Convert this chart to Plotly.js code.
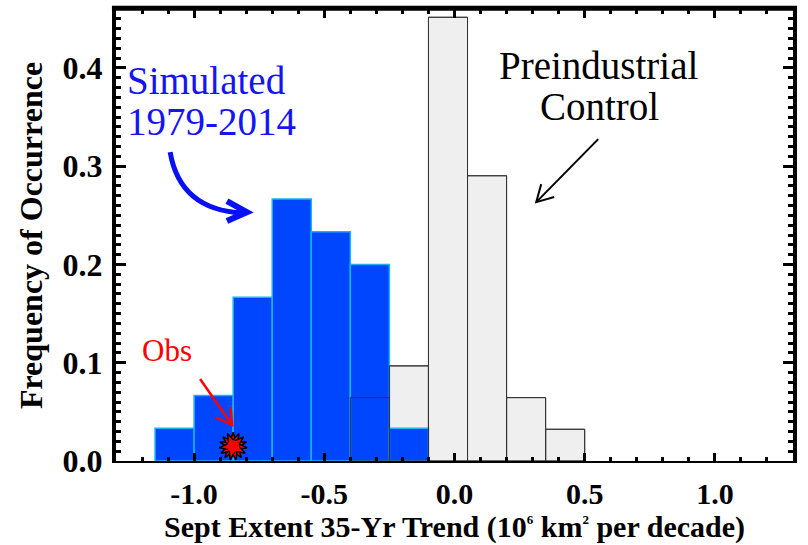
<!DOCTYPE html>
<html>
<head>
<meta charset="utf-8">
<script src="https://cdn.plot.ly/plotly-3.0.1.min.js"></script>
<style>html,body{margin:0;padding:0;background:#fff;}#chart{width:808px;height:545px;}</style>
</head>
<body>
<div id="chart"></div>
<script>
// Bin centres (10^6 km^2 per decade), bin width 0.15
const simCenters = [-1.075, -0.925, -0.775, -0.625, -0.475, -0.325, -0.175];
const simFreq    = [0.0333, 0.0667, 0.1667, 0.2667, 0.2333, 0.2000, 0.0333];
const ctrlCenters = [-0.325, -0.175, -0.025, 0.125, 0.275, 0.425];
const ctrlFreq    = [0.0645, 0.0968, 0.4516, 0.2903, 0.0645, 0.0323];
const binWidth = 0.15;
const obsTrend = [-0.85];
const xTickVals = [-1.0, -0.5, 0.0, 0.5, 1.0];
const xTickText = ['-1.0', '-0.5', '0.0', '0.5', '1.0'];
const yTickVals = [0.0, 0.1, 0.2, 0.3, 0.4];
const yTickText = ['0.0', '0.1', '0.2', '0.3', '0.4'];

const serif = 'Liberation Serif';

const traces = [
  {type:'bar', x: ctrlCenters, y: ctrlFreq, width: binWidth,
   marker:{color:'#EFEFEF', line:{color:'#444', width:1}}, hoverinfo:'skip'},
  {type:'bar', x: simCenters, y: simFreq, width: binWidth,
   marker:{color:'#0046FF', line:{color:'#1AB2F0', width:1.5}}, hoverinfo:'skip'},
  {type:'bar', x: ctrlCenters, y: ctrlFreq, width: binWidth,
   marker:{color:'rgba(0,0,0,0)', line:{color:'#333', width:1}}, hoverinfo:'skip'},
  {type:'scatter', mode:'markers', x: obsTrend, y: [0.015],
   marker:{symbol:'star', size:20, color:'#FF0000', line:{color:'#000', width:1.5}}, hoverinfo:'skip'},
  {type:'scatter', mode:'markers', x: obsTrend, y: [0.015],
   marker:{symbol:'star', angle:24, size:20, color:'#FF0000', line:{color:'#000', width:1.5}}, hoverinfo:'skip'},
  {type:'scatter', mode:'markers', x: obsTrend, y: [0.015],
   marker:{symbol:'star', angle:48, size:20, color:'#FF0000', line:{color:'#000', width:1.5}}, hoverinfo:'skip'},
  {type:'scatter', mode:'markers', x: obsTrend, y: [0.015],
   marker:{symbol:'circle', size:12, color:'#FF0000'}, hoverinfo:'skip'}
];

const layout = {
  width: 808, height: 545,
  margin: {l:116, r:15, t:10, b:84},
  paper_bgcolor:'#fff', plot_bgcolor:'#fff',
  showlegend:false, barmode:'overlay', bargap:0,
  font:{family: serif, color:'#000'},
  xaxis:{
    range:[-1.3, 1.3], tickmode:'array', tickvals:xTickVals, ticktext:xTickText,
    ticks:'inside', ticklen:8, tickwidth:3, tickcolor:'#000',
    showline:true, linecolor:'#000', linewidth:2, mirror:'ticks',
    showgrid:false, zeroline:false,
    minor:{tickmode:'linear', tick0:0, dtick:0.1, ticks:'inside', ticklen:4, tickwidth:3, tickcolor:'#000', showgrid:false},
    tickfont:{family: serif, size:30, weight:'bold', color:'#000'},
    ticklabelstandoff: 5,
    title:{text:'Sept Extent 35-Yr Trend (10<sup><span style="font-size:13px">6</span></sup> km<sup><span style="font-size:13px">2</span></sup> per decade)',
           font:{family: serif, size:30, weight:'bold', color:'#000'}, standoff: 4}
  },
  yaxis:{
    range:[0, 0.459], tickmode:'array', tickvals:yTickVals, ticktext:yTickText,
    ticks:'inside', ticklen:10, tickwidth:3, tickcolor:'#000',
    showline:true, linecolor:'#000', linewidth:4, mirror:'ticks',
    showgrid:false, zeroline:false,
    minor:{tickmode:'linear', tick0:0, dtick:0.01, ticks:'inside', ticklen:5, tickwidth:3, tickcolor:'#000', showgrid:false},
    tickfont:{family: serif, size:32, weight:'bold', color:'#000'},
    ticklabelstandoff: 3,
    title:{text:'Frequency of Occurrence', font:{family: serif, size:32, weight:'bold', color:'#000'}, standoff: 11}
  },
  shapes:[
    {type:'line', xref:'paper', yref:'paper', x0:-0.006, x1:1.006, y0:1.004, y1:1.004, line:{color:'#000', width:5}},
    // blue curved arrow
    {type:'path', xref:'x', yref:'y', path:'M -1.092,0.3143 Q -1.054,0.2553 -0.812,0.2523', line:{color:'#0A10F5', width:5}},
    {type:'path', xref:'x', yref:'y', path:'M -0.874,0.2645 L -0.797,0.2533 L -0.874,0.2442', line:{color:'#0A10F5', width:6}},
    // black arrow
    {type:'path', xref:'x', yref:'y', path:'M 0.552,0.3276 L 0.314,0.2635', line:{color:'#000', width:2}},
    {type:'path', xref:'x', yref:'y', path:'M 0.383,0.2686 L 0.314,0.2635 L 0.333,0.2818', line:{color:'#000', width:2}},
    // red arrow
    {type:'path', xref:'x', yref:'y', path:'M -0.977,0.0834 L -0.854,0.0366', line:{color:'#FF0000', width:2.5}},
    {type:'path', xref:'x', yref:'y', path:'M -0.917,0.0445 L -0.854,0.0366 L -0.860,0.0549', line:{color:'#FF0000', width:2.5}}
  ],
  annotations:[
    {xref:'x', yref:'y', x:-1.265, y:0.3876, xanchor:'left', yanchor:'middle', showarrow:false,
     text:'Simulated', font:{family: serif, size:39, color:'#1414F5'}},
    {xref:'x', yref:'y', x:-1.265, y:0.3459, xanchor:'left', yanchor:'middle', showarrow:false,
     text:'1979-2014', font:{family: serif, size:39, color:'#1414F5'}},
    {xref:'x', yref:'y', x:0.552, y:0.4028, xanchor:'center', yanchor:'middle', showarrow:false,
     text:'Preindustrial', font:{family: serif, size:39, color:'#000'}},
    {xref:'x', yref:'y', x:0.556, y:0.3611, xanchor:'center', yanchor:'middle', showarrow:false,
     text:'Control', font:{family: serif, size:39, color:'#000'}},
    {xref:'x', yref:'y', x:-1.105, y:0.112, xanchor:'center', yanchor:'middle', showarrow:false,
     text:'Obs', font:{family: serif, size:31, color:'#FF0000'}}
  ]
};

Plotly.newPlot('chart', traces, layout, {displayModeBar:false, staticPlot:true});
</script>
</body>
</html>
